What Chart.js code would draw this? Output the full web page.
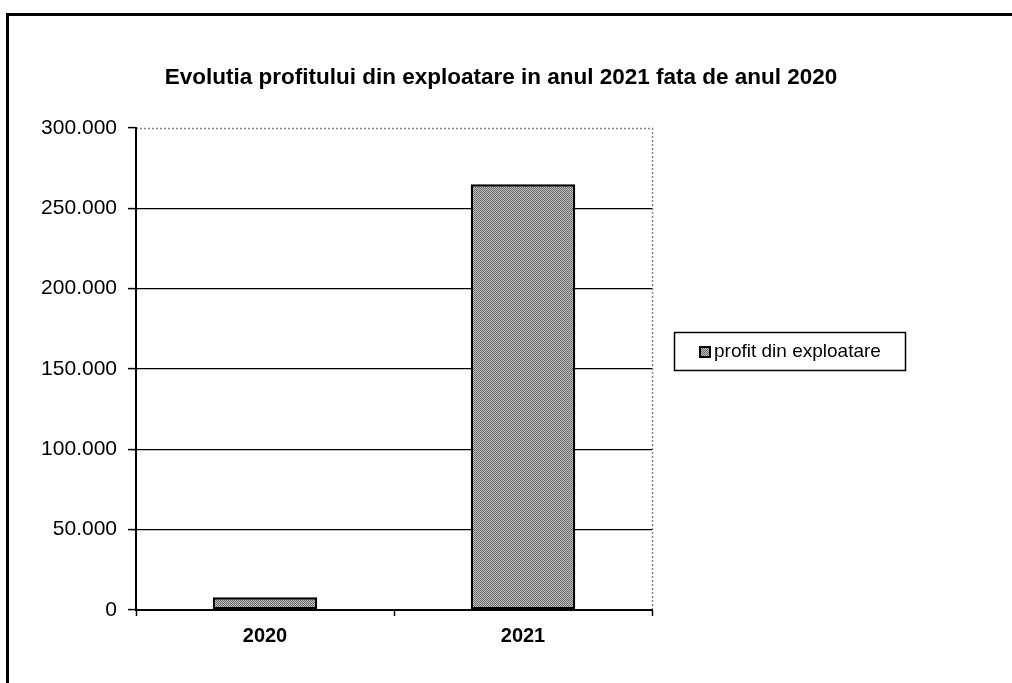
<!DOCTYPE html>
<html>
<head>
<meta charset="utf-8">
<script src="https://cdn.jsdelivr.net/npm/chart.js@4/dist/chart.umd.min.js"></script>
<style>
  html, body { margin: 0; padding: 0; background: #fff; }
  #wrap { width: 1012px; height: 683px; position: relative; }
</style>
</head>
<body>
<div id="wrap"><canvas id="c" width="1012" height="683"></canvas></div>
<script>
const chartTitle = 'Evolutia profitului din exploatare in anul 2021 fata de anul 2020';
const categories = ['2020', '2021'];
const seriesLabel = 'profit din exploatare';
const profitValues = [8000, 265000];
const yTickValues = [0, 50000, 100000, 150000, 200000, 250000, 300000];

const FONT = "'Liberation Sans', Arial, sans-serif";

function fmt(v) {
  return String(Math.round(v)).replace(/\B(?=(\d{3})+(?!\d))/g, '.');
}

// dithered gray pattern like the scanned original
function makePattern() {
  const p = document.createElement('canvas');
  p.width = 2; p.height = 2;
  const g = p.getContext('2d');
  g.fillStyle = '#c0c0c0'; g.fillRect(0, 0, 2, 2);
  g.fillStyle = '#6a6a6a'; g.fillRect(0, 0, 1, 1); g.fillRect(1, 1, 1, 1);
  return g.createPattern(p, 'repeat');
}
const barFill = makePattern();

const decorPlugin = {
  id: 'decor',
  beforeDraw(chart) {
    const ctx = chart.ctx;
    ctx.save();
    ctx.fillStyle = '#fff';
    ctx.fillRect(0, 0, chart.width, chart.height);
    // outer frame (top and left)
    ctx.strokeStyle = '#000';
    ctx.lineWidth = 3;
    ctx.beginPath();
    ctx.moveTo(7.5, chart.height);
    ctx.lineTo(7.5, 14.5);
    ctx.lineTo(chart.width, 14.5);
    ctx.stroke();
    // title
    ctx.fillStyle = '#000';
    ctx.font = 'bold 22.5px ' + FONT;
    ctx.textAlign = 'center';
    ctx.textBaseline = 'middle';
    ctx.fillText(chartTitle, 501, 78);
    // dotted plot area border (top, right)
    const a = chart.chartArea;
    ctx.strokeStyle = '#888';
    ctx.lineWidth = 1.5;
    ctx.setLineDash([2, 2]);
    ctx.beginPath();
    ctx.moveTo(a.left, a.top + 0.5);
    ctx.lineTo(a.right + 0.5, a.top + 0.5);
    ctx.lineTo(a.right + 0.5, a.bottom);
    ctx.stroke();
    ctx.restore();
  },
  afterDraw(chart) {
    const ctx = chart.ctx;
    const ds = chart.data.datasets[0];
    ctx.save();
    // legend box
    const bx = 674, by = 332, bw = 231, bh = 38;
    ctx.strokeStyle = '#000';
    ctx.lineWidth = 1.5;
    ctx.strokeRect(bx + 0.5, by + 0.5, bw, bh);
    // marker
    ctx.fillStyle = ds.backgroundColor;
    ctx.fillRect(700, 347, 10, 10);
    ctx.lineWidth = 2;
    ctx.strokeRect(700, 347, 10, 10);
    // text
    ctx.fillStyle = '#000';
    ctx.font = '19px ' + FONT;
    ctx.textAlign = 'left';
    ctx.textBaseline = 'middle';
    ctx.fillText(ds.label, 714, 352);
    ctx.restore();
  }
};

new Chart(document.getElementById('c'), {
  type: 'bar',
  data: {
    labels: categories,
    datasets: [{
      label: seriesLabel,
      data: profitValues,
      backgroundColor: barFill,
      borderColor: '#000',
      borderWidth: 2.5,
      borderSkipped: false,
      categoryPercentage: 1,
      barPercentage: 0.405
    }]
  },
  options: {
    responsive: false,
    animation: false,
    devicePixelRatio: 1,
    layout: { padding: { top: 128, left: 0, right: 360, bottom: 0 } },
    plugins: {
      legend: { display: false },
      title: { display: false },
      tooltip: { enabled: false }
    },
    scales: {
      x: {
        offset: true,
        afterFit(scale) { scale.height = 73; },
        border: { display: true, color: '#000', width: 2 },
        grid: { display: true, offset: true, drawOnChartArea: false, drawTicks: true, tickLength: 6, tickColor: '#000', tickWidth: 1.5 },
        ticks: { color: '#000', padding: 8, font: { family: FONT, size: 20, weight: 'bold' } }
      },
      y: {
        min: 0,
        max: 300000,
        afterFit(scale) { scale.width = 136; },
        afterBuildTicks(scale) { scale.ticks = yTickValues.map(v => ({ value: v })); },
        border: { display: true, color: '#000', width: 2 },
        grid: {
          color: ctx => (ctx.tick && ctx.tick.value === 300000) ? 'rgba(0,0,0,0)' : '#000',
          lineWidth: 1.2,
          drawTicks: true,
          tickLength: 8,
          tickColor: '#000',
          tickWidth: 1.5
        },
        ticks: {
          color: '#000',
          padding: 11,
          font: { family: FONT, size: 21 },
          callback: v => fmt(v)
        }
      }
    }
  },
  plugins: [decorPlugin]
});
</script>
</body>
</html>
